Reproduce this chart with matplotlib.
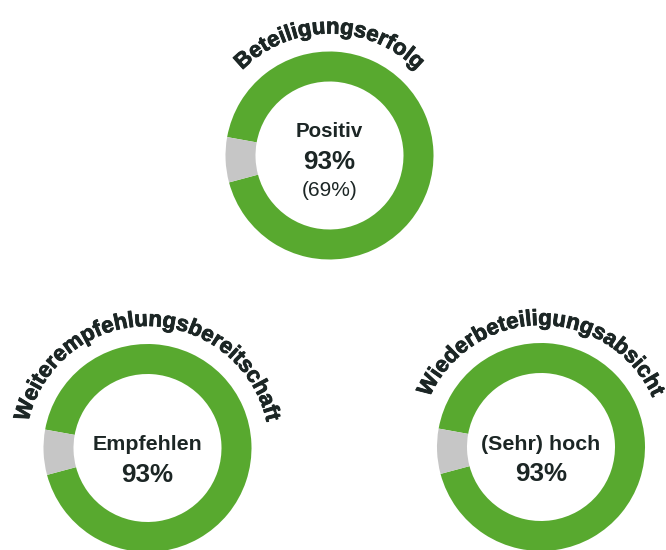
import numpy as np
import matplotlib
matplotlib.use('Agg')
import matplotlib.pyplot as plt
import matplotlib.patheffects as pe
from matplotlib.font_manager import FontProperties

# Daten
titles = ['Beteiligungserfolg', 'Weiterempfehlungsbereitschaft', 'Wiederbeteiligungsabsicht']
labels = ['Positiv', 'Empfehlen', '(Sehr) hoch']
share = [93, 93, 93]            # Anteil positiv in %
rest = [7, 7, 7]                # Rest in %
sub = ['(69%)', None, None]     # Zusatzwert

GREEN = '#58a92f'
GREY = '#c6c6c6'
DARK = '#1c2625'
FONT = 'Liberation Sans'

# Mittelpunkte in Pixel (y von oben)
centers = [(329.5, 155.5), (147.5, 448), (541, 447)]
R_OUT = 104
RING = 30
R_TEXT = 122

fig = plt.figure(figsize=(6.66, 5.5), dpi=100)
ax = fig.add_axes([0, 0, 1, 1])
renderer = fig.canvas.get_renderer()
H = 550
bold = [pe.withStroke(linewidth=0.6, foreground=DARK)]


def curved_text(text, cx, cy, r, size):
    fp = FontProperties(family=FONT, weight='bold', size=size)
    # Breite der Teilstrings in Pixel (1 px = 1 Dateneinheit)
    w = [renderer.get_text_width_height_descent(text[:i], fp, ismath=False)[0] if i else 0
         for i in range(len(text) + 1)]
    total = w[-1] / r
    start = np.pi / 2 + total / 2
    for i, ch in enumerate(text):
        mid = (w[i] + w[i + 1]) / 2 / r
        th = start - mid
        x = cx + r * np.cos(th)
        y = cy + r * np.sin(th)
        ax.text(x, y, ch, fontproperties=fp, color=DARK, rotation=np.degrees(th) - 90,
                rotation_mode='anchor', ha='center', va='baseline', path_effects=bold)


def label(x, y, s, size, weight='bold'):
    ax.text(x, y, s, ha='center', va='baseline', fontsize=size, fontweight=weight,
            family=FONT, color=DARK)


for k in range(3):
    cx, cy = centers[k]
    cy = H - cy
    ax.pie([share[k], rest[k]], colors=[GREEN, GREY], startangle=195, counterclock=True,
           center=(cx, cy), radius=R_OUT, wedgeprops=dict(width=RING, linewidth=0))
    curved_text(titles[k], cx, cy, R_TEXT, 16)
    if sub[k]:
        label(cx, cy + 18.8, labels[k], 14.8)
        label(cx, cy - 13.5, f'{share[k]}%', 18.7)
        label(cx, cy - 41, sub[k], 15, 'normal')
    else:
        label(cx, cy - 2.5, labels[k], 15.4)
        label(cx, cy - 34, f'{share[k]}%', 18.7)

ax.set_xlim(0, 666)
ax.set_ylim(0, 550)
ax.set_aspect('equal')
ax.axis('off')
fig.savefig('out.png', dpi=100)
